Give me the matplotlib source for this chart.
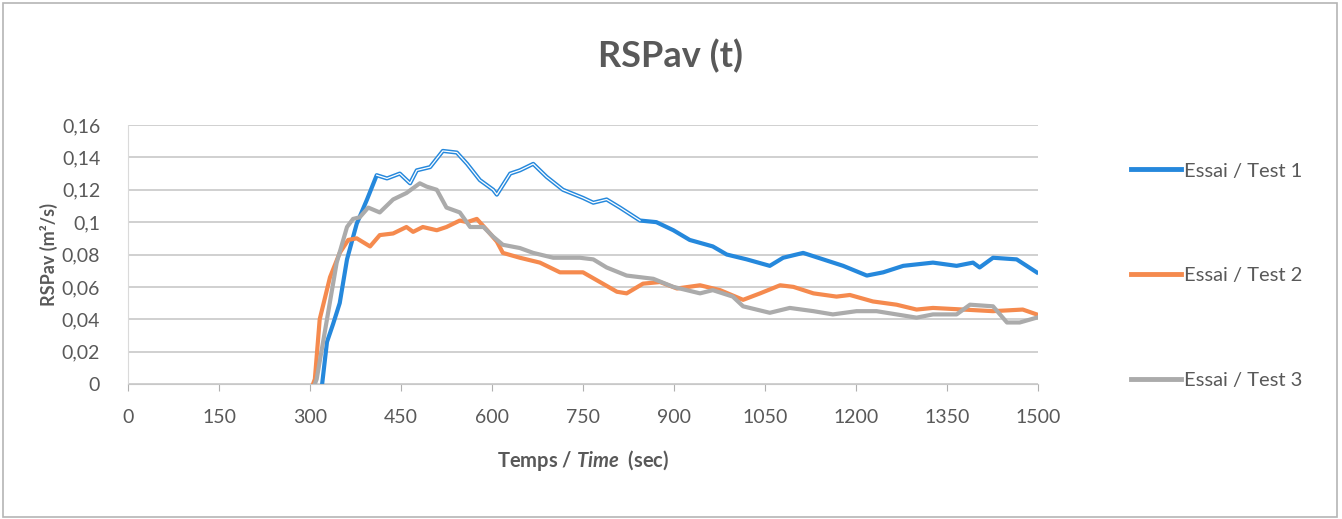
"""RSPav(t) curves for the three tests."""

import matplotlib

matplotlib.use("Agg")

import matplotlib.pyplot as plt
from matplotlib.lines import Line2D
from matplotlib.patches import Rectangle
from matplotlib.ticker import FuncFormatter, MultipleLocator

# time (s) / RSPav (m2/s)
t1 = [320, 328, 338, 349, 361, 377, 394, 410, 427, 448, 465, 476, 498, 519, 542, 559,
      580, 602, 608, 630, 646, 668, 690, 717, 750, 767, 789, 811, 844, 871, 899, 926,
      964, 987, 1020, 1058, 1080, 1113, 1146, 1179, 1218, 1245, 1278, 1327, 1366,
      1393, 1404, 1426, 1465, 1498]
rsp1 = [0.0, 0.026, 0.037, 0.05, 0.077, 0.099, 0.114, 0.129, 0.127, 0.130, 0.124, 0.132,
        0.134, 0.144, 0.143, 0.136, 0.126, 0.120, 0.117, 0.130, 0.132, 0.136, 0.128,
        0.120, 0.115, 0.112, 0.114, 0.109, 0.101, 0.100, 0.095, 0.089, 0.085, 0.080,
        0.077, 0.073, 0.078, 0.081, 0.077, 0.073, 0.067, 0.069, 0.073, 0.075, 0.073,
        0.075, 0.072, 0.078, 0.077, 0.069]

t2 = [305, 308, 316, 333, 349, 363, 377, 399, 415, 437, 459, 470, 486, 509, 525, 547,
      559, 575, 592, 608, 618, 646, 679, 712, 750, 778, 806, 822, 849, 877, 905, 943,
      976, 1014, 1042, 1075, 1097, 1130, 1168, 1190, 1228, 1267, 1300, 1327, 1377,
      1426, 1475, 1498]
rsp2 = [0.0, 0.003, 0.040, 0.066, 0.081, 0.089, 0.090, 0.085, 0.092, 0.093, 0.097,
        0.094, 0.097, 0.095, 0.097, 0.101, 0.100, 0.102, 0.095, 0.088, 0.081, 0.078,
        0.075, 0.069, 0.069, 0.063, 0.057, 0.056, 0.062, 0.063, 0.059, 0.061, 0.058,
        0.052, 0.056, 0.061, 0.060, 0.056, 0.054, 0.055, 0.051, 0.049, 0.046, 0.047,
        0.046, 0.045, 0.046, 0.043]

t3 = [308, 311, 328, 344, 361, 371, 382, 396, 415, 437, 459, 481, 492, 509, 525, 547,
      564, 586, 602, 618, 646, 668, 701, 745, 767, 789, 822, 866, 899, 943, 964, 997,
      1014, 1058, 1091, 1130, 1162, 1201, 1234, 1267, 1300, 1327, 1366, 1388, 1426,
      1449, 1470, 1498]
rsp3 = [0.0, 0.003, 0.040, 0.075, 0.097, 0.102, 0.103, 0.109, 0.106, 0.114, 0.118,
        0.124, 0.122, 0.120, 0.109, 0.106, 0.097, 0.097, 0.091, 0.086, 0.084, 0.081,
        0.078, 0.078, 0.077, 0.072, 0.067, 0.065, 0.060, 0.056, 0.058, 0.054, 0.048,
        0.044, 0.047, 0.045, 0.043, 0.045, 0.045, 0.043, 0.041, 0.043, 0.043, 0.049,
        0.048, 0.038, 0.038, 0.041]

labels = ["Essai / Test 1", "Essai / Test 2", "Essai / Test 3"]
colors = ["#2588DC", "#F58A4E", "#ABABAB"]

TEXT = "#595959"
plt.rcParams["font.family"] = ["Lato", "DejaVu Sans"]
plt.rcParams["mathtext.fontset"] = "custom"
plt.rcParams["mathtext.it"] = "Lato:italic:bold"

fig = plt.figure(figsize=(13.42, 5.19), dpi=100)
ax = fig.add_axes([0.0954, 0.2601, 0.678, 0.499])

series = [(t1, rsp1), (t2, rsp2), (t3, rsp3)]
# blue sits under the other two like in the scan
for (t, v), c, z in zip(series, colors, [2, 3, 4]):
    ax.plot(t, v, color=c, lw=3.0, zorder=z, solid_joinstyle="round")

# the scan shows the blue peak region as a hollow double line
seg = [i for i, t in enumerate(t1) if 400 <= t <= 845]
ax.plot([t1[i] for i in seg], [rsp1[i] for i in seg], color="white", lw=0.9, zorder=2.5)

ax.set_xlim(0, 1500)
ax.set_ylim(0, 0.16)
ax.xaxis.set_major_locator(MultipleLocator(150))
ax.yaxis.set_major_locator(MultipleLocator(0.02))
ax.yaxis.set_major_formatter(FuncFormatter(lambda v, _: f"{v:.2f}".rstrip("0").rstrip(".").replace(".", ",")))

ax.grid(axis="y", color="#C8C8C8", lw=1.2)
ax.set_axisbelow(True)
for s in ["top", "right"]:
    ax.spines[s].set_visible(False)
ax.spines["bottom"].set_color("#C8C8C8")
ax.spines["left"].set_color("#DADADA")
ax.spines["left"].set_linestyle((0, (1, 1)))
ax.tick_params(axis="x", colors="#B0B0B0", length=5, labelcolor=TEXT, labelsize=14, pad=13)
ax.tick_params(axis="y", length=0, labelcolor=TEXT, labelsize=14, pad=20)

ax.set_ylabel("RSPav (m²/s)", color=TEXT, fontsize=13, fontweight="bold", labelpad=3)
ax.set_xlabel(r"Temps / $Time$  (sec)", color=TEXT, fontsize=14.5, fontweight="bold",
              labelpad=16)
fig.text(0.5, 0.893, "RSPav (t)", ha="center", va="center", color=TEXT, fontsize=26,
         fontweight="bold")

handles = [Line2D([], [], color=c, lw=3.5) for c in colors]
fig.legend(handles, labels, loc="upper left", bbox_to_anchor=(0.829, 0.722), frameon=False,
           fontsize=14.5, labelcolor=TEXT, labelspacing=4.35, handlelength=2.5,
           handletextpad=0.15)

fig.add_artist(Rectangle((0.002, 0.004), 0.994, 0.99, transform=fig.transFigure,
                         fill=False, edgecolor="#B5B5B5", lw=1.2))

fig.savefig("out.png", dpi=100)
plt.close(fig)
